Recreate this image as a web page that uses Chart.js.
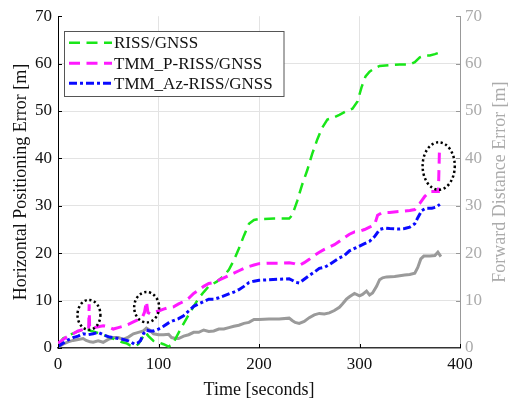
<!DOCTYPE html>
<html><head><meta charset="utf-8">
<script src="https://cdn.jsdelivr.net/npm/chart.js@4.4.0/dist/chart.umd.min.js"></script>
<style>html,body{margin:0;padding:0;background:#fff;} canvas{display:block}</style>
</head><body>
<canvas id="c" width="510" height="403"></canvas>
<script>
// ---- data (time in seconds, errors in metres) ----
const rissT = [0,5,12,20,25,30,38,45,52,58,64,68,72,76,80,84,87,90,95,100,105,110,114,118,122,126,130,135,140,145,150,158,165,170,175,180,185,190,195,200,215,230,233,238,243,248,253,258,263,268,273,280,287,293,298,302,306,310,315,320,330,340,350,355,360,365,370,375,379];
const rissV = [0.5,2,2.8,3.5,3.8,3.8,3.3,2.8,2.2,1.7,1.2,1,0.5,0.3,0.8,2.2,3.3,2.5,1.5,1.2,0.8,0.3,0.8,2.4,4,5.5,7,8.8,10.5,11.8,13,14,15.2,16.5,18.5,21,23.7,26.2,27,27.2,27.3,27.3,28,31,34.5,37.5,41,44,46.5,48.2,48.5,49.2,50,50.5,52,55,57.3,58.3,59,59.5,59.7,59.8,59.8,60.3,61.3,61.7,61.7,62,62.3];

const tmmPT = [0,5,10,15,20,25,30.5,31,31.5,33,36,40,45,50,55,60,65,70,75,80,84,86,88,89.5,92,95,100,105,110,115,120,125,130,135,140,145,150,155,160,165,170,175,180,185,190,195,200,210,220,230,235,240,245,250,255,260,265,270,275,280,285,290,295,300,305,310,315,318,322,330,340,350,355,360,365,370,375,378.5,379.5];
const tmmPV = [1,1.8,2.5,3,3.6,3.9,4,9.2,4.2,4.3,4.3,4.5,4.7,4.5,4,4.3,4.6,5,5.5,6,6.5,7.5,9.8,7.5,7.2,7.5,7.8,8.2,8.5,8.7,9.3,9.8,10.5,11.5,12.2,13,13.6,13.8,14.3,14.8,15.3,15.8,16.3,16.8,17.2,17.5,17.8,17.9,17.9,18,17.8,17.4,18,18.7,19.5,20.2,20.8,21.3,21.8,22.5,23.3,24,24.5,24.6,25,25.5,26,28,28.5,28.6,28.8,29,29.2,30.5,32,33,33,33,41.3];

const tmmAzT = [0,5,10,15,20,25,30,35,40,45,50,55,60,65,70,73,76,79,82,85,88,91,95,100,105,110,115,120,125,130,135,140,145,150,155,160,165,170,175,180,185,190,195,200,210,220,230,233,236,240,245,250,255,260,265,270,275,280,285,290,295,300,305,310,315,320,325,330,340,345,350,355,358,362,366,372,376,380];
const tmmAzV = [0.3,1,1.7,2.2,2.5,3,2.8,3,3.3,2.8,2.4,2.2,2,1.8,1.5,1.2,0.8,1,1.5,3,3.8,3.6,3.6,4,4.6,5.3,5.8,6.2,6.8,7.8,8.8,9.3,9.8,10.3,10.3,10.6,11,11.4,11.8,12.3,13,13.8,14.1,14.3,14.4,14.5,14.6,14.3,13.9,13.7,14.5,15.3,16,16.8,17,17.6,18.3,19,19.5,20.5,21,21.5,22,22.5,23.5,25,25.3,25.2,25.1,25.2,25.5,26.2,27.5,29,29.5,29.5,29.7,30.3];

const fwdT = [0,5,10,15,20,25,28,32,35,40,45,50,55,60,65,70,75,80,85,88,91,95,100,105,110,113,117,120,125,130,135,140,145,150,155,160,165,170,175,180,185,190,195,200,210,220,230,233,236,240,245,250,255,260,265,270,275,280,283,287,290,295,300,303,307,310,313,317,320,323,327,335,345,350,355,358,361,364,370,375,378,381];
const fwdV = [0.2,0.8,1.3,1.6,1.8,2,1.6,1.3,1.2,1.5,1.2,1.8,2.2,2.2,1.8,2.3,3,3.3,3.6,4.2,3.8,3,2.8,2.8,2.9,2.2,2,2,2.5,2.8,3.3,3.3,3.8,3.5,3.6,4,4,4.3,4.6,4.8,5.2,5.4,6,6,6.1,6.1,6.3,5.8,5.4,5.2,5.6,6.4,7,7.3,7.2,7.4,7.9,8.6,9.3,10.3,10.8,11.5,11,11.3,12,11.2,11.6,13,14.4,14.8,15,15.1,15.4,15.5,15.8,17,18.8,19.4,19.4,19.5,20.2,19.3];

// highlighted regions: [centre time, centre value, half-width (s), half-height (m)]
const highlightT = [30.8, 88.2, 378.8];
const highlightV = [7.0, 8.6, 38.4];
const highlightRx = [11.4, 12.4, 16];
const highlightRy = [3.15, 3.2, 5.0];

const seriesLabels = ['RISS/GNSS','TMM_P-RISS/GNSS','TMM_Az-RISS/GNSS'];
const xTicks = [0,100,200,300,400];
const yTicks = [0,10,20,30,40,50,60,70];

const pts = (t,v) => t.map((x,i)=>({x:x,y:v[i]}));
const FONT = "'Liberation Serif', 'Times New Roman', serif";
const GREYTXT = '#ababab';

const legendPlugin = {
  id:'customLegend',
  afterDraw(chart){
    const ctx = chart.ctx;
    ctx.save();
    ctx.fillStyle = '#fff';
    ctx.fillRect(64.5,31.5,219.5,65);
    ctx.strokeStyle = '#555';
    ctx.lineWidth = 1;
    ctx.strokeRect(64.5,31.5,219.5,65);
    const ys = [42.7,63.3,83.3];
    for (let i=0;i<3;i++){
      const ds = chart.data.datasets[i];
      ctx.beginPath();
      ctx.setLineDash(ds.borderDash||[]);
      ctx.strokeStyle = ds.borderColor;
      ctx.lineWidth = ds.borderWidth;
      ctx.moveTo(69,ys[i]); ctx.lineTo(112,ys[i]);
      ctx.stroke();
      ctx.setLineDash([]);
      ctx.fillStyle = '#111';
      ctx.font = '17px ' + FONT;
      ctx.textBaseline = 'middle';
      ctx.textAlign = 'left';
      ctx.fillText(ds.label,114,ys[i]+1);
    }
    ctx.restore();
  }
};

const extrasPlugin = {
  id:'extras',
  afterDatasetsDraw(chart){
    const ctx = chart.ctx, xs = chart.scales.x, ys = chart.scales.y;
    ctx.save();
    ctx.strokeStyle = '#000';
    ctx.lineWidth = 2.5;
    ctx.setLineDash([2.2,2.6]);
    for (let i=0;i<highlightT.length;i++){
      const cx = xs.getPixelForValue(highlightT[i]);
      const cy = ys.getPixelForValue(highlightV[i]);
      const rx = Math.abs(xs.getPixelForValue(highlightT[i]+highlightRx[i]) - cx);
      const ry = Math.abs(ys.getPixelForValue(highlightV[i]+highlightRy[i]) - cy);
      ctx.beginPath();
      ctx.ellipse(cx,cy,rx,ry,0,0,Math.PI*2);
      ctx.stroke();
    }
    ctx.restore();
  },
  afterDraw(chart){
    const ctx = chart.ctx, xs = chart.scales.x, ys = chart.scales.y, ca = chart.chartArea;
    ctx.save();
    ctx.lineWidth = 1;
    ctx.strokeStyle = '#000';
    yTicks.forEach(v=>{ const p = Math.round(ys.getPixelForValue(v))+0.5; ctx.beginPath(); ctx.moveTo(ca.left,p); ctx.lineTo(ca.left+4,p); ctx.stroke(); });
    xTicks.forEach(v=>{ const p = Math.round(xs.getPixelForValue(v))+0.5; ctx.beginPath(); ctx.moveTo(p,ca.bottom); ctx.lineTo(p,ca.bottom-4); ctx.stroke(); });
    ctx.strokeStyle = '#999';
    yTicks.forEach(v=>{ const p = Math.round(ys.getPixelForValue(v))+0.5; ctx.beginPath(); ctx.moveTo(ca.right,p); ctx.lineTo(ca.right-4,p); ctx.stroke(); });
    ctx.translate(500,(ca.top+ca.bottom)/2);
    ctx.rotate(-Math.PI/2);
    ctx.fillStyle = GREYTXT;
    ctx.font = '18px ' + FONT;
    ctx.textAlign = 'center';
    ctx.textBaseline = 'middle';
    ctx.fillText('Forward Distance Error [m]',0,0);
    ctx.restore();
  }
};

new Chart(document.getElementById('c'), {
  type:'line',
  data:{
    datasets:[
      {label:seriesLabels[0], data:pts(rissT,rissV), borderColor:'#19e619', borderWidth:2.5, borderDash:[11,6.5], yAxisID:'y', order:3},
      {label:seriesLabels[1], data:pts(tmmPT,tmmPV), borderColor:'#ff19ff', borderWidth:3, borderDash:[11,6.5], yAxisID:'y', order:2},
      {label:seriesLabels[2], data:pts(tmmAzT,tmmAzV), borderColor:'#0a0aff', borderWidth:3, borderDash:[8,3,3,3], yAxisID:'y', order:1},
      {label:'Forward', data:pts(fwdT,fwdV), borderColor:'#9a9a9a', borderWidth:3, yAxisID:'y2', order:4}
    ]
  },
  options:{
    responsive:false, animation:false,
    devicePixelRatio:1,
    layout:{padding:{top:15,left:0,right:0,bottom:0}},
    elements:{point:{radius:0}, line:{tension:0, fill:false, borderCapStyle:'butt'}},
    plugins:{legend:{display:false}, tooltip:{enabled:false}},
    scales:{
      x:{type:'linear', min:0, max:400,
        afterFit:(s)=>{s.height=55;},
        afterBuildTicks:(s)=>{s.ticks = xTicks.map(v=>({value:v}));},
        ticks:{color:'#111', font:{family:FONT,size:17}, padding:6, maxRotation:0},
        grid:{drawTicks:false, color:(c)=> (c.tick && (c.tick.value===0||c.tick.value===400)) ? 'rgba(0,0,0,0)' : '#e3e3e3'},
        border:{display:true, color:'#333', width:1.5},
        title:{display:true, text:'Time [seconds]', color:'#111', font:{family:FONT,size:18}, padding:{top:0,bottom:2}}
      },
      y:{type:'linear', position:'left', min:0, max:70,
        afterFit:(s)=>{s.width=58;},
        afterBuildTicks:(s)=>{s.ticks = yTicks.map(v=>({value:v}));},
        ticks:{color:'#111', font:{family:FONT,size:17}, padding:6},
        grid:{drawTicks:false, color:(c)=> (c.tick && (c.tick.value===0||c.tick.value===70)) ? 'rgba(0,0,0,0)' : '#e3e3e3'},
        border:{display:true, color:'#000', width:1},
        title:{display:true, text:'Horizontal Positioning Error [m]', color:'#111', font:{family:FONT,size:18}, padding:{top:10.5,bottom:0}}
      },
      y2:{type:'linear', position:'right', min:0, max:70,
        afterFit:(s)=>{s.width=50;},
        afterBuildTicks:(s)=>{s.ticks = yTicks.map(v=>({value:v}));},
        ticks:{color:GREYTXT, font:{family:FONT,size:17}, padding:5},
        grid:{drawOnChartArea:false, drawTicks:false},
        border:{display:true, color:'#999', width:1}
      }
    }
  },
  plugins:[extrasPlugin, legendPlugin]
});
</script>
</body></html>
